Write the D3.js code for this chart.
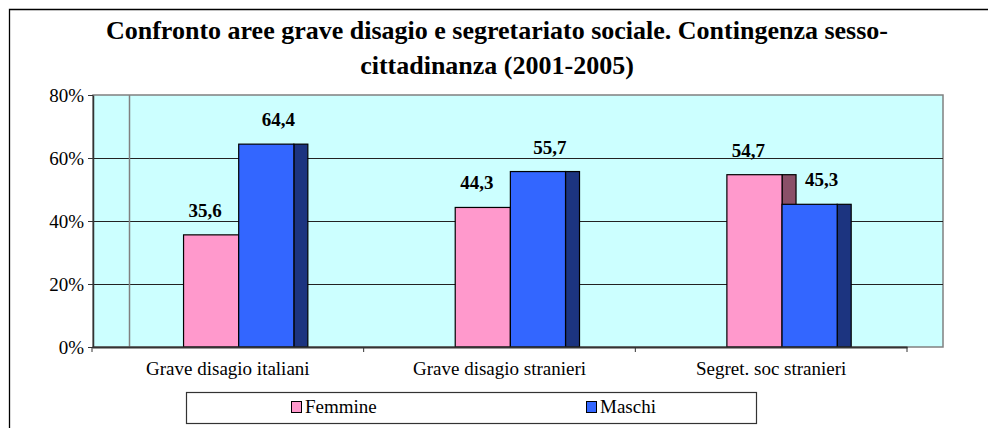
<!DOCTYPE html>
<meta charset="utf-8">
<style>
    body { margin: 0; background: #fff; }
    svg text { font-family: "Liberation Serif", "Times New Roman", serif; fill: #000; }
    .title { font-size: 26px; font-weight: bold; }
    .axis text { font-size: 19px; }
    .axis path, .axis line { stroke: #333; }
    .vlabel { font-size: 19px; font-weight: bold; }
    .legend text { font-size: 19px; }
</style>
<body>
<svg></svg>
<script src="https://d3js.org/d3.v7.min.js"></script>
<script>

    var categories = ['Grave disagio italiani', 'Grave disagio stranieri', 'Segret. soc stranieri'];
    var femmine = [35.6, 44.3, 54.7];
    var maschi = [64.4, 55.7, 45.3];
    var yTicks = [0, 20, 40, 60, 80];
    var seriesNames = ['Femmine', 'Maschi'];

    var W = 988, H = 428;
    var plot = {left: 93, right: 907, top: 95, bottom: 347};
    var depth = 36;      // back wall offset of the 3d chart
    var barDepth = 14;   // side face of each column

    var colors = {
        Femmine: {front: '#ff99cc', side: '#8a5068'},
        Maschi:  {front: '#3366ff', side: '#1c3480'}
    };

    var svg = d3.select('svg')
        .attr('width', W)
        .attr('height', H);

    // outer frame (only top and left visible)
    svg.append('path')
        .attr('d', 'M9.5,' + H + 'V9.5H' + W)
        .attr('fill', 'none')
        .attr('stroke', '#000')
        .attr('stroke-width', 1.3);

    svg.append('text')
        .attr('class', 'title')
        .attr('text-anchor', 'middle')
        .selectAll('tspan')
        .data(['Confronto aree grave disagio e segretariato sociale. Contingenza sesso-', 'cittadinanza (2001-2005)'])
        .enter().append('tspan')
        .attr('x', 497)
        .attr('y', function(d, i) { return 39 + i * 35; })
        .text(function(d) { return d; });

    var x = d3.scaleBand()
        .domain(categories)
        .range([plot.left - 1, plot.right]);

    var y = d3.scaleLinear()
        .domain([0, 80])
        .range([plot.bottom, plot.top]);

    // plot background
    svg.append('rect')
        .attr('x', plot.left)
        .attr('y', plot.top)
        .attr('width', plot.right + depth - plot.left)
        .attr('height', plot.bottom - plot.top)
        .attr('fill', '#ccffff')
        .attr('stroke', '#808080')
        .attr('stroke-width', 1.5);

    // gridlines
    svg.append('g')
        .selectAll('line')
        .data(yTicks.slice(1, -1))
        .enter().append('line')
        .attr('x1', plot.left)
        .attr('x2', plot.right + depth)
        .attr('y1', function(d) { return Math.round(y(d)) + 0.5; })
        .attr('y2', function(d) { return Math.round(y(d)) + 0.5; })
        .attr('stroke', '#222')
        .attr('stroke-width', 1);

    // back wall edge
    svg.append('line')
        .attr('x1', plot.left + depth + 0.5)
        .attr('x2', plot.left + depth + 0.5)
        .attr('y1', plot.top)
        .attr('y2', plot.bottom)
        .attr('stroke', '#808080')
        .attr('stroke-width', 1.5);

    var barW = x.bandwidth() * 0.203;
    var shift = x.bandwidth() * 0.04;

    var data = [];
    categories.forEach(function(c, i) {
        data.push({cat: c, series: 'Femmine', value: femmine[i], k: 0});
        data.push({cat: c, series: 'Maschi', value: maschi[i], k: 1});
    });

    function barX(d) {
        return x(d.cat) + x.bandwidth() / 2 + shift + (d.k - 1) * barW;
    }

    var bars = svg.append('g').attr('class', 'bars');
    var groups = bars.selectAll('g')
        .data(data)
        .enter().append('g');

    groups.append('rect')
        .attr('x', function(d) { return barX(d) + barW; })
        .attr('y', function(d) { return y(d.value); })
        .attr('width', barDepth)
        .attr('height', function(d) { return y(0) - y(d.value); })
        .attr('fill', function(d) { return colors[d.series].side; })
        .attr('stroke', '#000')
        .attr('stroke-width', 1.2);

    groups.append('rect')
        .attr('x', function(d) { return barX(d); })
        .attr('y', function(d) { return y(d.value); })
        .attr('width', barW)
        .attr('height', function(d) { return y(0) - y(d.value); })
        .attr('fill', function(d) { return colors[d.series].front; })
        .attr('stroke', '#000')
        .attr('stroke-width', 1.2);

    svg.append('g')
        .selectAll('text')
        .data(data)
        .enter().append('text')
        .attr('class', 'vlabel')
        .attr('text-anchor', 'middle')
        .attr('x', function(d) { return barX(d) + barW / 2 + (d.k ? 12 : -6); })
        .attr('y', function(d) { return y(d.value) - 18; })
        .text(function(d) { return d.value.toFixed(1).replace('.', ','); });

    // axes
    var yAxis = d3.axisLeft(y)
        .tickValues(yTicks)
        .tickFormat(function(d) { return d + '%'; })
        .tickSize(5)
        .tickSizeOuter(0)
        .tickPadding(4);

    var gy = svg.append('g')
        .attr('class', 'axis')
        .attr('transform', 'translate(' + plot.left + ',0)')
        .call(yAxis)
        .attr('font-family', null);
    gy.select('.domain').attr('stroke-width', 1.5);

    var xAxis = d3.axisBottom(x)
        .tickSize(0)
        .tickPadding(15);

    var gx = svg.append('g')
        .attr('class', 'axis')
        .attr('transform', 'translate(0,' + plot.bottom + ')')
        .call(xAxis)
        .attr('font-family', null);
    gx.select('.domain').attr('stroke-width', 2);
    gx.selectAll('.tick text').attr('dy', '0.71em');

    // category separators
    gx.selectAll('.sep')
        .data(categories.concat(['end']))
        .enter().append('line')
        .attr('class', 'sep')
        .attr('x1', function(d, i) { return plot.left - 1 + i * x.bandwidth(); })
        .attr('x2', function(d, i) { return plot.left - 1 + i * x.bandwidth(); })
        .attr('y1', 0)
        .attr('y2', 5)
        .attr('stroke', '#333');

    // legend
    var legend = svg.append('g').attr('class', 'legend');
    legend.append('rect')
        .attr('x', 186.5)
        .attr('y', 392.5)
        .attr('width', 570)
        .attr('height', 31)
        .attr('fill', '#fff')
        .attr('stroke', '#333')
        .attr('stroke-width', 1.2);

    var items = legend.selectAll('g.item')
        .data(seriesNames)
        .enter().append('g')
        .attr('class', 'item')
        .attr('transform', function(d, i) { return 'translate(' + (291 + i * 295) + ',0)'; });

    items.append('rect')
        .attr('x', 0.5)
        .attr('y', 401.5)
        .attr('width', 10)
        .attr('height', 11)
        .attr('fill', function(d) { return colors[d].front; })
        .attr('stroke', '#000');

    items.append('text')
        .attr('x', 14)
        .attr('y', 413)
        .text(function(d) { return d; });

</script>
